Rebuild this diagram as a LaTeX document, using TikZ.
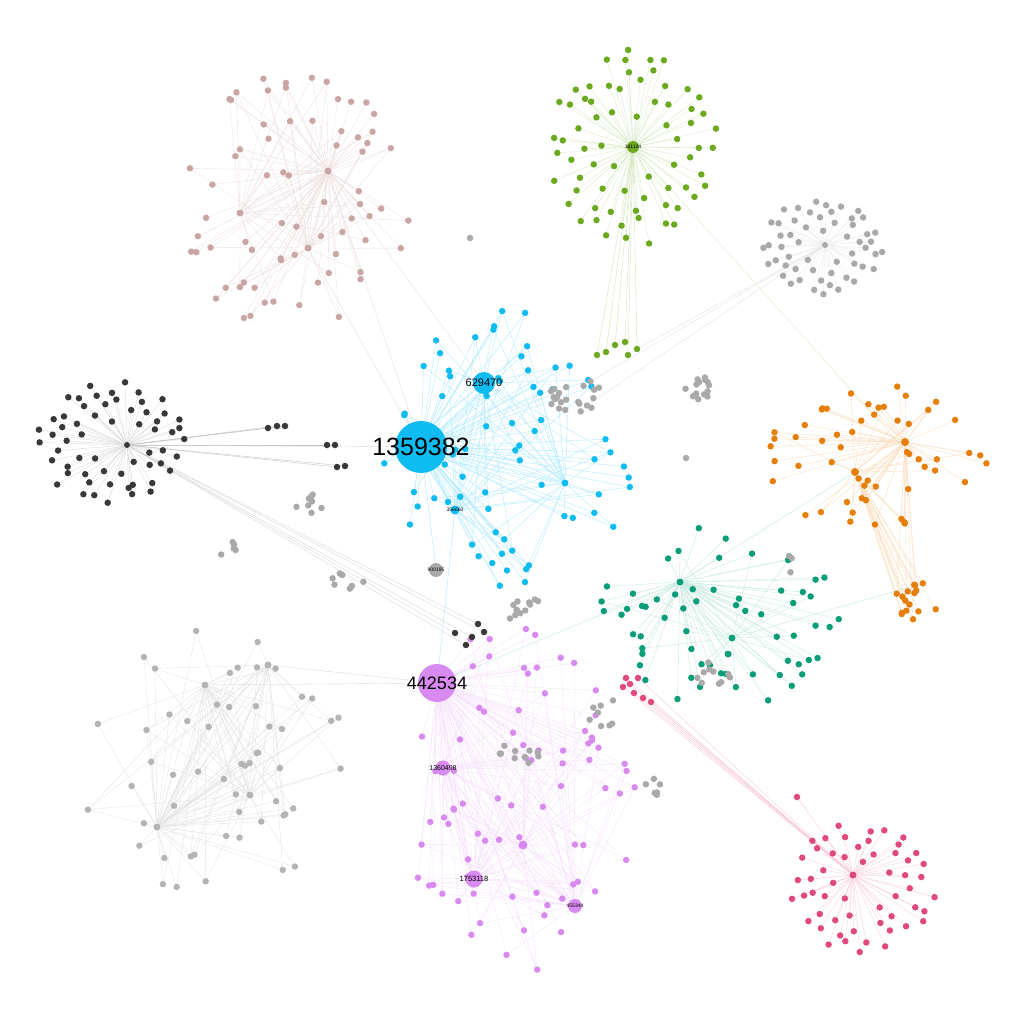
\documentclass[tikz,border=0pt]{standalone}
\usepackage{fontspec}
\setmainfont{Liberation Sans}
\usetikzlibrary{positioning}
\pgfdeclarelayer{edges}
\pgfsetlayers{edges,main}

\definecolor{sky}{HTML}{0FBCF2}
\definecolor{grn}{HTML}{6BAA1E}
\definecolor{org}{HTML}{E67E0A}
\definecolor{teal}{HTML}{0A9E78}
\definecolor{vio}{HTML}{D98AF0}
\definecolor{pnk}{HTML}{E04A7A}
\definecolor{rose}{HTML}{C9A6A3}
\definecolor{dk}{HTML}{3A3836}
\definecolor{lgray}{HTML}{B4B4B4}
\definecolor{mgray}{HTML}{A9A9A9}

% leaves spread round one centre
\newcommand\leafring[7]{%
  \foreach \i in {1,...,#2}{%
    \pgfmathsetmacro\ang{\i*137.508+8*rand}%
    \pgfmathsetmacro\rad{0.22+0.78*sqrt(\i/#2)+0.04*rand}%
    \node[dot, fill=#7] (#1\i) at ({#3+#5*\rad*cos(\ang)},{#4+#6*\rad*sin(\ang)}) {};
  }}
% leaves in a blob
\newcommand\leafcloud[7]{%
  \foreach \i in {1,...,#2}{%
    \pgfmathsetmacro\ang{360*rnd}%
    \pgfmathsetmacro\rad{sqrt(rnd)}%
    \node[dot, fill=#7] (#1\i) at ({#3+#5*\rad*cos(\ang)},{#4+#6*\rad*sin(\ang)}) {};
  }}
% links from hubs to leaves: first hub always, the others sometimes
\newcommand\hublinks[4]{%
  \foreach \i in {1,...,#2}{%
    \foreach \h [count=\k] in {#4}{%
      \pgfmathtruncatemacro\pick{(\k==1) || (rnd<0.4)}%
      \ifnum\pick=1 \draw[link, #3] (\h) -- (#1\i);\fi
    }}}

\begin{document}
\begin{tikzpicture}[x=1pt, y=-1pt,
    dot/.style={circle, inner sep=0pt, minimum size=6.5pt},
    hub/.style={circle, inner sep=0pt, minimum size=#1},
    link/.style={line width=0.4pt},
    num/.style={font=\fontsize{#1}{#1}\selectfont, text=black, inner sep=0pt},
  ]
  \useasboundingbox (0,0) rectangle (1024,1024);
  \pgfmathsetseed{1234}

  % rings
  \leafring{ga}{70}{633}{147}{86}{98}{grn}
  \leafring{ka}{60}{112}{442}{74}{62}{dk}
  \leafring{pa}{55}{862}{887}{72}{66}{pnk}
  \leafring{ta}{55}{822}{247}{62}{47}{mgray}

  % clouds
  \leafcloud{ba}{75}{505}{450}{130}{140}{sky}
  \leafcloud{va}{80}{522}{795}{118}{185}{vio}
  \leafcloud{te}{65}{722}{615}{125}{95}{teal}
  \leafcloud{oa}{55}{868}{455}{120}{72}{org}
  \leafcloud{ob}{16}{915}{598}{24}{24}{org}
  \leafcloud{ra}{70}{295}{205}{115}{132}{rose}
  \leafcloud{la}{55}{208}{755}{140}{152}{lgray}

  % loose grey clumps
  \leafcloud{ma}{22}{572}{395}{30}{18}{mgray}
  \leafcloud{mb}{14}{697}{390}{18}{14}{mgray}
  \leafcloud{mc}{8}{308}{505}{20}{16}{mgray}
  \leafcloud{md}{5}{228}{550}{8}{15}{mgray}
  \leafcloud{me}{7}{350}{580}{18}{14}{mgray}
  \leafcloud{mf}{12}{525}{612}{25}{14}{mgray}
  \leafcloud{mg}{8}{605}{712}{18}{16}{mgray}
  \leafcloud{mh}{6}{655}{782}{10}{16}{mgray}
  \leafcloud{mi}{10}{520}{752}{22}{12}{mgray}
  \leafcloud{mj}{10}{712}{670}{22}{16}{mgray}
  \leafcloud{mk}{3}{790}{565}{6}{10}{mgray}
  \node[dot, fill=mgray] (s1) at (470,238) {};
  \node[dot, fill=mgray] (s2) at (686,458) {};

  % stray coloured groups
  \foreach \x/\y [count=\i] in {268/428, 277/426, 285/426, 327/445, 335/445, 337/467, 345/466}
    \node[dot, fill=dk] (kb\i) at (\x,\y) {};
  \foreach \x/\y [count=\i] in {455/633, 478/624, 484/632, 466/645, 472/637}
    \node[dot, fill=dk] (kc\i) at (\x,\y) {};
  \foreach \x/\y [count=\i] in {597/355, 606/352, 615/345, 625/342, 628/355, 637/349}
    \node[dot, fill=grn] (gb\i) at (\x,\y) {};
  \foreach \x/\y [count=\i] in {626/678, 638/678, 630/684, 623/687, 634/693, 643/698, 651/702, 797/797}
    \node[dot, fill=pnk] (pb\i) at (\x,\y) {};

  % hubs, drawn over the leaves
  \node[hub=52pt, fill=sky, label={[num=25]center:1359382}] (b0) at (421,447) {};
  \node[hub=22pt, fill=sky, label={[num=11]center:629470}] (b1) at (484,383) {};
  \node[hub=9pt, fill=sky, label={[num=5]center:356660}] (b2) at (455,510) {};
  \node[hub=7pt, fill=sky] (b3) at (565,483) {};
  \node[hub=14pt, fill=mgray, label={[num=5]center:900195}] (n900) at (436,570) {};

  \node[hub=38pt, fill=vio, label={[num=18]center:442534}] (p0) at (437,683) {};
  \node[hub=15pt, fill=vio, label={[num=7]center:1360498}] (p1) at (443,768) {};
  \node[hub=17pt, fill=vio, label={[num=7.5]center:1753118}] (p2) at (474,879) {};
  \node[hub=14pt, fill=vio, label={[num=5]center:455344}] (p3) at (575,906) {};
  \node[hub=9pt, fill=vio] (p4) at (523,845) {};

  \node[hub=12pt, fill=grn, label={[num=5]center:161124}] (g0) at (633,147) {};
  \node[hub=6pt, fill=dk] (k0) at (127,445) {};
  \node[hub=7pt, fill=pnk] (pk) at (853,875) {};
  \node[hub=8pt, fill=org] (o1) at (905,442) {};
  \node[hub=8pt, fill=org] (o2) at (855,472) {};
  \node[hub=7pt, fill=teal] (t1) at (680,582) {};
  \node[hub=7pt, fill=teal] (t2) at (732,638) {};
  \node[hub=7pt, fill=rose] (r1) at (240,213) {};
  \node[hub=7pt, fill=rose] (r2) at (328,171) {};
  \node[hub=7pt, fill=rose] (r3) at (308,248) {};
  \node[hub=7pt, fill=lgray] (l1) at (157,827) {};
  \node[hub=7pt, fill=lgray] (l2) at (250,795) {};
  \node[hub=7pt, fill=lgray] (l3) at (205,685) {};
  \node[hub=7pt, fill=lgray] (l4) at (268,665) {};
  \node[hub=6pt, fill=mgray] (tr) at (825,245) {};

  \begin{pgfonlayer}{edges}
    \hublinks{ga}{70}{grn!25}{g0}
    \hublinks{ka}{60}{dk!18}{k0}
    \hublinks{pa}{55}{pnk!25}{pk}
    \hublinks{ta}{55}{mgray!22}{tr}
    \hublinks{ba}{75}{sky!32}{b0,b1,b3,b2}
    \hublinks{va}{80}{vio!25}{p0,p2,p3,p1,p4}
    \hublinks{te}{65}{teal!22}{t1,t2}
    \hublinks{oa}{55}{org!25}{o1,o2}
    \hublinks{ob}{16}{org!25}{o2,o1}
    \hublinks{ra}{70}{rose!32}{r2,r1,r3}
    \hublinks{la}{55}{lgray!35}{l1,l2,l3,l4}
    \hublinks{kb}{7}{dk!30}{k0}
    \hublinks{kc}{5}{dk!20}{k0}
    \hublinks{gb}{6}{grn!30}{g0}
    \hublinks{pb}{8}{pnk!30}{pk}
    \draw[link, dk!20] (k0) -- (b0);
    \draw[link, rose!40] (r2) -- (b1);
    \draw[link, rose!40] (r3) -- (b0);
    \draw[link, rose!40] (r2) -- (b0);
    \draw[link, mgray!35] (tr) -- (ma3);
    \draw[link, mgray!35] (tr) -- (ma7);
    \draw[link, mgray!35] (tr) -- (gb6);
    \draw[link, grn!25] (g0) -- (oa5);
    \draw[link, teal!25] (t1) -- (o2);
    \draw[link, teal!25] (t2) -- (ob3);
    \draw[link, teal!25] (t1) -- (p0);
    \draw[link, lgray!50] (l3) -- (p0);
    \draw[link, lgray!50] (l4) -- (p0);
    \draw[link, sky!35] (b0) -- (n900);
    \draw[link, sky!35] (b2) -- (p0);
  \end{pgfonlayer}
\end{tikzpicture}
\end{document}
